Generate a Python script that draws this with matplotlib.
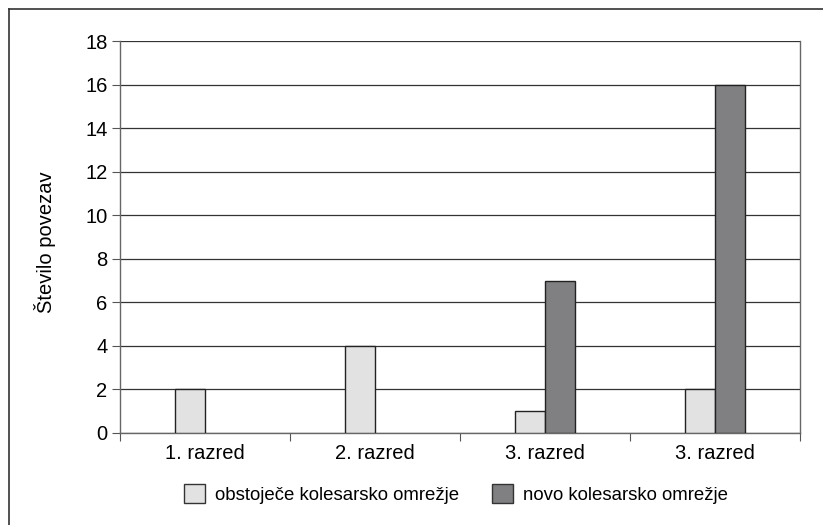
import matplotlib.pyplot as plt
import numpy as np
from matplotlib.lines import Line2D
from matplotlib.patches import Patch

plt.rcParams['font.family'] = ['Liberation Sans', 'DejaVu Sans']

categories = ["1. razred", "2. razred", "3. razred", "3. razred"]
obstojece = [2, 4, 1, 2]
novo = [0, 0, 7, 16]
series_names = ["obstoječe kolesarsko omrežje", "novo kolesarsko omrežje"]

light = "#e2e2e2"
dark = "#808083"

fig = plt.figure(figsize=(8.23, 5.25), dpi=100)
ax = fig.add_axes([120 / 823, 1 - 433 / 525, 680 / 823, 392 / 525])

x = np.arange(len(categories))
w = 30 / 170
ax.bar(x - w / 2, obstojece, w, color=light, edgecolor="#222222", linewidth=1.0, zorder=3)
# empty groups have no dark bar drawn
nx = [xi for xi, v in zip(x, novo) if v > 0]
nv = [v for v in novo if v > 0]
ax.bar(np.array(nx) + w / 2, nv, w, color=dark, edgecolor="#222222", linewidth=1.0, zorder=3)

ax.set_xlim(-0.5, len(categories) - 0.5)
ax.set_ylim(0, 18)
ax.set_yticks(range(0, 19, 2))
ax.yaxis.grid(True, color="#333333", linewidth=0.9, zorder=0)
ax.set_xticks(np.arange(-0.5, len(categories), 1.0))
ax.set_xticklabels([])
ax.set_xticks(x, minor=True)
ax.set_xticklabels(categories, minor=True)
ax.tick_params(axis="x", which="major", length=6, color="#555555", direction="out")
ax.tick_params(axis="x", which="minor", length=0, pad=8, labelsize=14.5)
ax.tick_params(axis="y", length=6, color="#555555", labelsize=14.5, pad=3)

ax.spines["top"].set_visible(False)
for side in ["left", "right", "bottom"]:
    ax.spines[side].set_color("#666666")
    ax.spines[side].set_linewidth(1.0)

fig.text(45 / 823, 1 - 242 / 525, "Število povezav", rotation=90, fontsize=14.5,
         ha="center", va="center")

handles = [Patch(facecolor=light, edgecolor="#333333", linewidth=1.0),
           Patch(facecolor=dark, edgecolor="#333333", linewidth=1.0)]
fig.legend(handles, series_names, loc="center", bbox_to_anchor=(456 / 823, 1 - 494 / 525),
           ncol=2, frameon=False, fontsize=13.4, handlelength=1.13, handleheight=1.2,
           columnspacing=1.75, handletextpad=0.54, borderpad=0, borderaxespad=0)

# outer frame
fig.add_artist(Line2D([9 / 823, 9 / 823], [0, 1 - 9 / 525], transform=fig.transFigure,
                      color="#333333", linewidth=1.2))
fig.add_artist(Line2D([9 / 823, 1], [1 - 9 / 525, 1 - 9 / 525], transform=fig.transFigure,
                      color="#333333", linewidth=1.2))

fig.savefig("out.png", dpi=100)
